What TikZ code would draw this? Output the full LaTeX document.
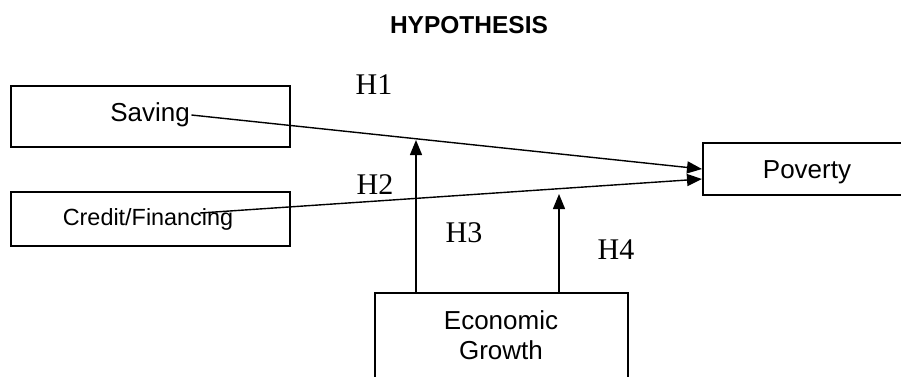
\documentclass[tikz,border=0pt]{standalone}
\usepackage{fontspec}
\setmainfont{Liberation Sans}
\newfontfamily\hfont{Liberation Serif}
\usetikzlibrary{arrows.meta, positioning, calc}
\tikzset{
  box/.style={rectangle, draw=black, line width=2pt, inner sep=0pt},
  txt/.style={font=\fontsize{26}{30}\selectfont, inner sep=1.5pt, align=center},
  hyp/.style={font=\hfont\fontsize{30}{34}\selectfont, inner sep=0pt},
  fl/.style={-{Triangle[length=15pt,width=12pt]}, line width=1.4pt}
}
\begin{document}
\begin{tikzpicture}[x=1pt, y=-1pt]
\useasboundingbox (0,0) rectangle (901,376);
\clip (0,0) rectangle (901,376);
\node[font=\bfseries\fontsize{24.5}{28}\selectfont] (title) at (469,25) {HYPOTHESIS};
% boxes
\node[box, minimum width=279pt, minimum height=61pt] (saving) at (150.5,116.5) {};
\node[box, minimum width=279pt, minimum height=54pt] (credit) at (150.5,219) {};
\node[box, minimum width=210pt, minimum height=52pt, anchor=west] (poverty) at (702,169) {};
\node[box, minimum width=253pt, minimum height=130pt, anchor=north] (econ) at (501.5,292) {};
% texts
\node[txt] (savtxt) at (150,115) {Saving};
\node[txt, font=\fontsize{23.4}{27}\selectfont] (cretxt) at (148,219) {Credit/Financing};
\node[txt] (povtxt) at (807,172) {Poverty};
\node[txt] (ecotxt) at (501,335) {Economic\\ Growth};
% hypothesis labels
\node[hyp] (h1) at (374,85) {H1};
\node[hyp] (h2) at (375,185) {H2};
\node[hyp] (h3) at (464,233) {H3};
\node[hyp] (h4) at (616,250) {H4};
% arrows
\coordinate (cf) at (200,213);
\coordinate (m1) at (416,140);
\coordinate (m2) at (559,194);
\draw[fl] (savtxt.east) -- (poverty.west);
\draw[fl] (cf) -- ($(poverty.west)+(0,10)$);
\draw[fl] (econ.north -| m1) -- (m1);
\draw[fl] (econ.north -| m2) -- (m2);
\end{tikzpicture}
\end{document}
